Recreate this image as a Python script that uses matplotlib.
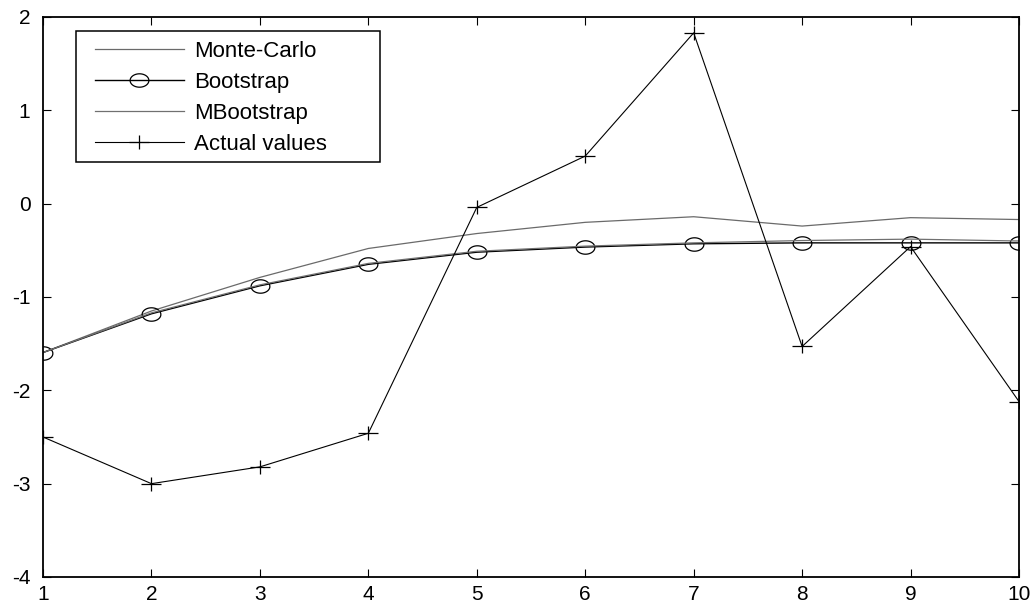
import numpy as np
import matplotlib
matplotlib.use('Agg')
import matplotlib.pyplot as plt
from matplotlib.path import Path
from matplotlib.patches import Rectangle

plt.rcParams['font.family'] = ['Liberation Sans', 'DejaVu Sans']
plt.rcParams['axes.unicode_minus'] = False

# data
steps = [1, 2, 3, 4, 5, 6, 7, 8, 9, 10]
monte_carlo = [-1.595, -1.15, -0.79, -0.48, -0.32, -0.20, -0.14, -0.24, -0.15, -0.17]
bootstrap = [-1.595, -1.18, -0.88, -0.65, -0.52, -0.465, -0.43, -0.42, -0.42, -0.42]
mbootstrap = [-1.595, -1.17, -0.87, -0.64, -0.51, -0.455, -0.42, -0.395, -0.38, -0.40]
actual = [-2.50, -3.00, -2.82, -2.46, -0.04, 0.51, 1.83, -1.53, -0.46, -2.12]

x_ticks = [1, 2, 3, 4, 5, 6, 7, 8, 9, 10]
y_ticks = [-4, -3, -2, -1, 0, 1, 2]

# stretched markers (the reference is wider than tall)
t = np.linspace(0, 2 * np.pi, 60)
ellipse = Path(np.column_stack([0.7 * np.cos(t), 0.5 * np.sin(t)]))
plus = Path([(-0.7, 0), (0.7, 0), (0, -0.5), (0, 0.5)],
            [Path.MOVETO, Path.LINETO, Path.MOVETO, Path.LINETO])

fig = plt.figure(figsize=(10.31, 6.08), dpi=100)
ax = fig.add_axes([43 / 1031, 1 - 577 / 608, 976 / 1031, 560 / 608])

ax.plot(steps, monte_carlo, color='#6a6a6a', lw=0.9, label='Monte-Carlo')
ax.plot(steps, bootstrap, color='black', lw=1.0, marker=ellipse, ms=13.5,
        mfc='none', mec='black', mew=0.9, label='Bootstrap')
ax.plot(steps, mbootstrap, color='#707070', lw=0.9, label='MBootstrap')
ax.plot(steps, actual, color='black', lw=0.8, marker=plus, ms=14,
        mec='black', mew=0.9, label='Actual values')

ax.set_xlim(1, 10)
ax.set_ylim(-4, 2)
ax.set_xticks(x_ticks)
ax.set_yticks(y_ticks)
for s in ax.spines.values():
    s.set_linewidth(1.3)
ax.tick_params(direction='in', top=True, right=True, length=6, width=0.8,
               labelsize=15)
ax.tick_params(axis='y', pad=9)
ax.tick_params(axis='x', pad=6)

# legend
ax.legend(loc='upper left', bbox_to_anchor=((95 - 43) / 976, (577 - 41) / 560),
          frameon=False, borderpad=0, borderaxespad=0, fontsize=16,
          handlelength=4.0, handletextpad=0.45, labelspacing=0.45)
ax.add_patch(Rectangle(((76 - 43) / 976, (577 - 162) / 560), 304 / 976, 131 / 560,
                       transform=ax.transAxes, fill=False, lw=1.1,
                       edgecolor='black', zorder=5))

fig.savefig('out.png', dpi=100)
